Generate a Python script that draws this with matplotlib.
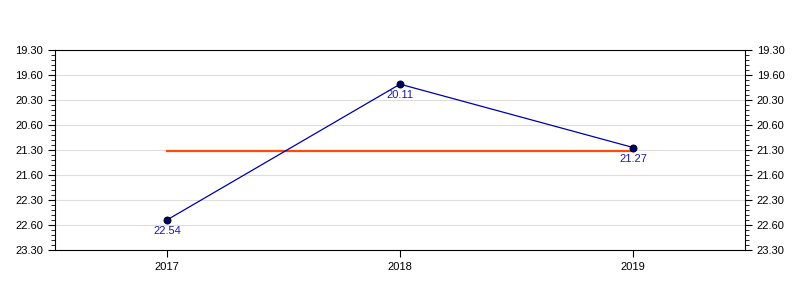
import numpy as np
import matplotlib
matplotlib.use('Agg')
import matplotlib.pyplot as plt
from matplotlib.ticker import MultipleLocator

plt.rcParams['font.family'] = ['Liberation Sans', 'DejaVu Sans']

# ================= 数据 =================
years = ['2017', '2018', '2019']
minutes = [22, 20, 21]
seconds = [54, 11, 27]
point_labels = ['22.54', '20.11', '21.27']

# y 轴刻度（分钟），标签照原图
ytick_values = [19.5, 20.0, 20.5, 21.0, 21.5, 22.0, 22.5, 23.0, 23.5]
ytick_labels = ['19.30', '19.60', '20.30', '20.60', '21.30', '21.60', '22.30', '22.60', '23.30']

values = np.array(minutes) + np.array(seconds) / 60.0
mean_val = values.mean()

# ================= 画图 =================
fig = plt.figure(figsize=(8, 3), dpi=100)
ax = fig.add_axes([55/800, 50/300, 690/800, 200/300])

x = np.arange(len(years))
ax.plot([x[0], x[-1]], [mean_val, mean_val], color='#FF4A0A', linewidth=1.6, zorder=2)
ax.plot(x, values, color='#0000AA', linewidth=0.9, zorder=3)
ax.scatter(x, values, s=26, color='#000066', edgecolors='black', linewidths=0.6, zorder=4)
for xi, v, lab in zip(x, values, point_labels):
    ax.annotate(lab, (xi, v), xytext=(0, -4.5), textcoords='offset points',
                ha='center', va='top', fontsize=8, color='#1A1AAA')

ax.set_xlim(-0.48, 2.48)
ax.set_ylim(23.5, 19.5)
ax.set_xticks(x)
ax.set_xticklabels(years, fontsize=8)
ax.set_yticks(ytick_values)
ax.set_yticklabels(ytick_labels, fontsize=8)
ax.yaxis.set_minor_locator(MultipleLocator(0.1))
ax.tick_params(axis='y', which='both', left=True, right=True, labelleft=True, labelright=True)
ax.tick_params(axis='y', which='major', length=5)
ax.tick_params(axis='y', which='minor', length=3)
ax.tick_params(axis='x', length=5)
ax.grid(axis='y', color='#DDDDDD', linewidth=0.8)
ax.set_axisbelow(True)
for sp in ax.spines.values():
    sp.set_color('black')
    sp.set_linewidth(0.8)

plt.savefig('out.png', dpi=100)
